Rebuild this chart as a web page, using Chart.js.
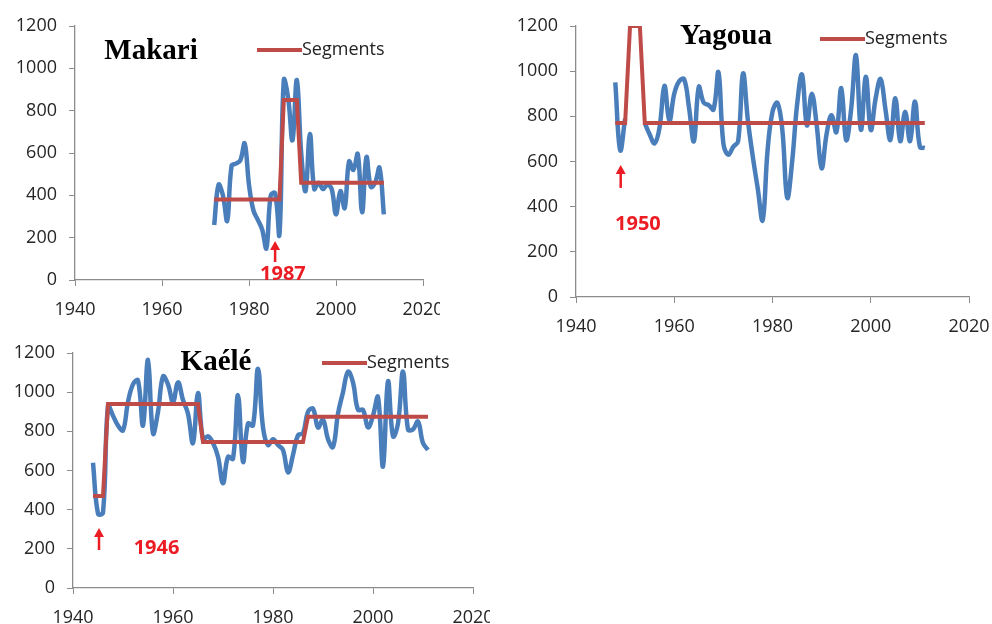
<!DOCTYPE html>
<html>
<head>
<meta charset="utf-8">
<script src="https://cdn.jsdelivr.net/npm/chart.js@4.4.1/dist/chart.umd.min.js"></script>
<style>
  html, body { margin: 0; padding: 0; background: #fff; }
  body { width: 992px; height: 624px; position: relative; overflow: hidden; }
  canvas { position: absolute; }
</style>
</head>
<body>
<canvas id="makari" width="440" height="320" style="left:0;top:0;width:440px;height:320px"></canvas>
<canvas id="yagoua" width="512" height="340" style="left:480px;top:0;width:512px;height:340px"></canvas>
<canvas id="kaele" width="490" height="294" style="left:0;top:330px;width:490px;height:294px"></canvas>
<script>
// axis ticks shared by the three panels
const xTicks = [1940, 1960, 1980, 2000, 2020];
const yTicks = [0, 200, 400, 600, 800, 1000, 1200];

// Makari: annual values 1972-2011
const makariStart = 1972;
const makariRain = [260, 450, 400, 280, 540, 550, 565, 645, 450, 330,
                    285, 240, 150, 400, 410, 215, 945, 860, 660, 945,
                    600, 420, 690, 430, 460, 430, 450, 430, 310, 420,
                    340, 560, 520, 595, 320, 580, 440, 460, 530, 310];
// segment polyline [year, mean]
const makariSeg = [[1972, 380], [1987, 380], [1988, 850], [1991, 850], [1992, 460], [2011, 460]];

// Yagoua: annual values 1948-2011 (1951-1953 hidden under the segment)
const yagouaStart = 1948;
const yagouaRain = [950, 650, 790, null, null, null, 770, 720, 680, 750,
                    935, 780, 900, 955, 965, 840, 690, 930, 860, 850,
                    830, 995, 680, 630, 665, 690, 990, 780, 620, 480,
                    340, 650, 820, 860, 740, 440, 600, 850, 985, 760,
                    900, 760, 570, 720, 805, 730, 925, 695, 830, 1070,
                    740, 975, 740, 880, 965, 830, 695, 880, 690, 820,
                    690, 865, 665, 660];
const yagouaSeg = [[1948, 770], [1950, 770], [1951, 1200], [1953, 1200], [1954, 770], [2011, 770]];

// Kaélé: annual values 1944-2011
const kaeleStart = 1944;
const kaeleRain = [640, 380, 385, 930, 880, 830, 805, 950, 1040, 1060,
                   830, 1165, 790, 900, 1080, 1040, 950, 1050, 960, 890,
                   740, 995, 760, 775, 740, 670, 535, 670, 660, 985,
                   645, 840, 830, 1120, 820, 730, 760, 730, 705, 590,
                   680, 780, 790, 900, 915, 820, 860, 760, 720, 890,
                   1000, 1105, 1050, 910, 910, 820, 880, 975, 620, 1055,
                   775, 840, 1105, 810, 810, 850, 740, 705];
const kaeleSeg = [[1944, 470], [1946, 470], [1947, 940], [1965, 940], [1966, 745], [1986, 745], [1987, 875], [2011, 875]];

const BLUE = '#4a7ebb';
const SEGRED = '#be4b48';
const MARK = '#ec1c24';
const AXIS = '#8c8c8c';
const TICKFONT = { family: '"Open Sans", sans-serif', size: 18 };

const toPoints = (start, vals) => vals.map((v, i) => ({ x: start + i, y: v }));
const segPoints = seg => seg.map(p => ({ x: p[0], y: p[1] }));

// title, legend and break-year arrow
const decoPlugin = {
  id: 'deco',
  afterDatasetsDraw(chart, args, o) {
    const ctx = chart.ctx, xs = chart.scales.x, ys = chart.scales.y;
    ctx.save();
    ctx.textBaseline = 'middle';
    ctx.font = 'bold 29px "Liberation Serif", serif';
    ctx.fillStyle = '#000';
    ctx.textAlign = 'center';
    ctx.fillText(o.title, o.titlePos[0], o.titlePos[1]);

    ctx.strokeStyle = SEGRED;
    ctx.lineWidth = 4;
    ctx.beginPath();
    ctx.moveTo(o.legPos[0], o.legPos[1]);
    ctx.lineTo(o.legPos[0] + 45, o.legPos[1]);
    ctx.stroke();
    ctx.font = '18px "Open Sans", sans-serif';
    ctx.fillStyle = '#222';
    ctx.textAlign = 'left';
    ctx.fillText('Segments', o.legPos[0] + 45, o.legPos[1]);

    const ax = xs.getPixelForValue(o.arrow[0]);
    const top = ys.getPixelForValue(o.arrow[1]);
    const bot = ys.getPixelForValue(o.arrow[2]);
    ctx.strokeStyle = MARK;
    ctx.fillStyle = MARK;
    ctx.lineWidth = 2.5;
    ctx.beginPath();
    ctx.moveTo(ax, bot);
    ctx.lineTo(ax, top + 7);
    ctx.stroke();
    ctx.beginPath();
    ctx.moveTo(ax, top);
    ctx.lineTo(ax - 5, top + 9);
    ctx.lineTo(ax + 5, top + 9);
    ctx.closePath();
    ctx.fill();

    ctx.font = 'bold 20px "Open Sans", sans-serif';
    ctx.textAlign = 'center';
    ctx.fillText(o.label, xs.getPixelForValue(o.labelAt[0]), ys.getPixelForValue(o.labelAt[1]));
    ctx.restore();
  }
};

function panel(id, start, rain, seg, box, extras) {
  new Chart(document.getElementById(id), {
    type: 'line',
    data: {
      datasets: [
        { label: 'Segments', data: segPoints(seg), borderColor: SEGRED, borderWidth: 4,
          pointRadius: 0, tension: 0, order: 0 },
        { label: 'Rain', data: toPoints(start, rain), borderColor: BLUE, borderWidth: 4.5,
          pointRadius: 0, tension: 0.4, spanGaps: false, order: 1 }
      ]
    },
    options: {
      responsive: false,
      animation: false,
      events: [],
      layout: { padding: { top: box.top, right: box.right, left: 0, bottom: 0 } },
      plugins: { legend: { display: false }, tooltip: { enabled: false }, deco: extras },
      scales: {
        x: {
          type: 'linear', min: xTicks[0], max: xTicks[xTicks.length - 1],
          afterBuildTicks: a => { a.ticks = xTicks.map(v => ({ value: v })); },
          afterFit: a => { a.height = box.xh; a.paddingLeft = 0; a.paddingRight = 0; },
          ticks: { font: TICKFONT, color: '#262626', padding: 13, maxRotation: 0, callback: v => String(v) },
          grid: { drawOnChartArea: false, tickLength: 6, color: AXIS },
          border: { color: AXIS, width: 1.3 }
        },
        y: {
          min: yTicks[0], max: yTicks[yTicks.length - 1],
          afterBuildTicks: a => { a.ticks = yTicks.map(v => ({ value: v })); },
          afterFit: a => { a.width = box.yw; a.paddingTop = 0; a.paddingBottom = 0; },
          ticks: { font: TICKFONT, color: '#262626', padding: 12, callback: v => String(v) },
          grid: { drawOnChartArea: false, tickLength: 6, color: AXIS },
          border: { color: AXIS, width: 1.3 }
        }
      }
    },
    plugins: [decoPlugin]
  });
}

panel('makari', makariStart, makariRain, makariSeg,
  { top: 26, right: 17, xh: 40, yw: 75 },
  { title: 'Makari', titlePos: [151, 52], legPos: [257, 50], arrow: [1986, 184, 85], label: '1987', labelAt: [1987.8, 28] });

panel('yagoua', yagouaStart, yagouaRain, yagouaSeg,
  { top: 26, right: 23, xh: 43, yw: 96 },
  { title: 'Yagoua', titlePos: [246, 37], legPos: [340, 39], arrow: [1949.1, 585, 483], label: '1950', labelAt: [1952.6, 323] });

panel('kaele', kaeleStart, kaeleRain, kaeleSeg,
  { top: 23, right: 17, xh: 36, yw: 73 },
  { title: 'Kaélé', titlePos: [216, 33], legPos: [322, 33], arrow: [1945.2, 307, 194], label: '1946', labelAt: [1956.7, 204] });
</script>
</body>
</html>
